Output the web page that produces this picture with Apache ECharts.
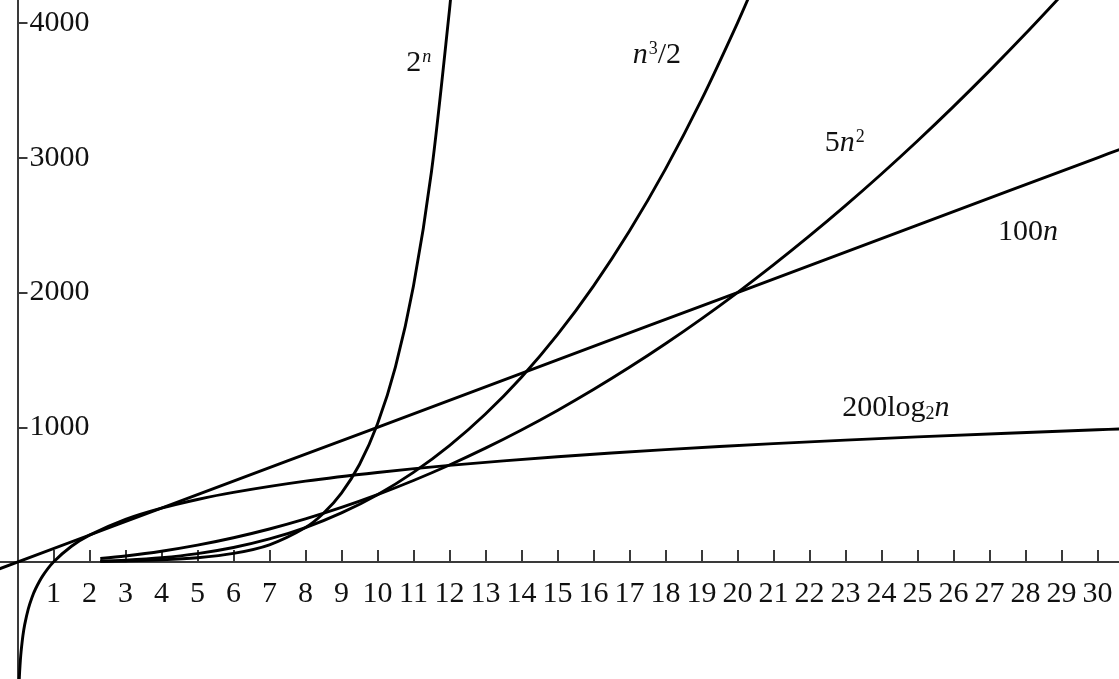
<!DOCTYPE html>
<html>
<head>
<meta charset="utf-8">
<script src="https://cdn.jsdelivr.net/npm/echarts@6/dist/echarts.min.js"></script>
<style>
html,body{margin:0;padding:0;background:#fff;}
#chart{width:1119px;height:679px;}
</style>
</head>
<body>
<div id="chart"></div>
<script>
// ---- data ----
var xTicks = [1,2,3,4,5,6,7,8,9,10,11,12,13,14,15,16,17,18,19,20,21,22,23,24,25,26,27,28,29,30];
var yTicks = [1000,2000,3000,4000];

var expN   = [2.3,3,4,5,6,7,8,8.5,9,9.5,10,10.5,11,11.5,12,12.1];
var expV   = [4.9,8,16,32,64,128,256,362,512,724,1024,1448,2048,2896,4096,4390];

var cubeN  = [2.3,3,4,5,6,7,8,9,10,11,12,13,14,15,16,17,18,19,20,20.5];
var cubeV  = [6.1,13.5,32,62.5,108,171.5,256,364.5,500,665.5,864,1098.5,1372,1687.5,2048,2456.5,2916,3429.5,4000,4307.6];

var quadN  = [2.3,3,4,5,6,7,8,9,10,11,12,13,14,15,16,17,18,19,20,21,22,23,24,25,26,27,28,29];
var quadV  = [26.5,45,80,125,180,245,320,405,500,605,720,845,980,1125,1280,1445,1620,1805,2000,2205,2420,2645,2880,3125,3380,3645,3920,4205];

var linN   = [-0.5,5,10,15,20,25,30,30.7];
var linV   = [-50,500,1000,1500,2000,2500,3000,3070];

var logN   = [0.045,0.06,0.08,0.1,0.15,0.2,0.3,0.4,0.5,0.7,1,1.5,2,3,4,5,6,8,10,12,15,18,21,25,30,30.7];
var logV   = [-894.8,-811.7,-728.8,-664.4,-547.4,-464.4,-347.4,-264.4,-200,-102.9,0,117,200,317,400,464.4,517,600,664.4,717,781.4,834,878.5,928.8,981.4,988.1];

// curve labels: text and anchor (data coords)
var labelTexts = ['{d|2}{sup|n}', '{i|n}{sup|3}{d|/2}', '{d|5}{i|n}{sup|2}', '{d|100}{i|n}', '{d|200log}{sub|2}{i|n}'];
var labelAt = [[11.15,3700],[17.76,3764],[22.98,3110],[28.07,2450],[24.4,1143]];

function pairs(ns, vs){ return ns.map(function(n,i){ return [n, vs[i]]; }); }

var FONT = 'Liberation Serif';
var FS = 30;
var rich = {
  d:  {fontFamily:FONT, fontSize:FS, color:'#111'},
  i:  {fontFamily:FONT, fontSize:FS, fontStyle:'italic', color:'#111'},
  sup:{fontFamily:FONT, fontSize:18, fontStyle:'normal', color:'#111', verticalAlign:'top', padding:[0,0,0,1]},
  sub:{fontFamily:FONT, fontSize:18, color:'#111', verticalAlign:'bottom'}
};
var richSupItalic = JSON.parse(JSON.stringify(rich));
richSupItalic.sup.fontStyle = 'italic';

function curve(ns, vs, idx){
  return {
    type:'line', data:pairs(ns, vs), showSymbol:false, smooth:0.3,
    clip:true, silent:true, z:3,
    lineStyle:{color:'#000', width:2.9},
    markPoint:{
      symbol:'circle', symbolSize:0, silent:true,
      label:{show:true, position:'inside', formatter: labelTexts[idx], rich: idx===0 ? richSupItalic : rich},
      data:[{coord: labelAt[idx]}]
    }
  };
}

function tickLabel(pos, dist, which){
  return {
    show:true, position:pos, distance:dist,
    formatter:function(p){ return '{t|' + p.value[which] + '}'; },
    rich:{ t:{fontFamily:FONT, fontSize:FS, color:'#111'} }
  };
}

var chart = echarts.init(document.getElementById('chart'));
chart.setOption({
  animation:false,
  backgroundColor:'#fff',
  grid:{left:0, right:0, top:0, bottom:0, containLabel:false, outerBoundsMode:'none'},
  xAxis:{
    type:'value', min:-0.486, max:30.6,
    axisLine:{show:true, onZero:true, lineStyle:{color:'#3a3a3a', width:2}},
    axisTick:{show:true, inside:true, length:12, customValues:xTicks, lineStyle:{color:'#3a3a3a', width:2}},
    axisLabel:{show:false},
    splitLine:{show:false}
  },
  yAxis:{
    type:'value', min:-868, max:4171,
    axisLine:{show:true, onZero:true, lineStyle:{color:'#3a3a3a', width:2}},
    axisTick:{show:true, inside:true, length:10, customValues:yTicks, lineStyle:{color:'#3a3a3a', width:2}},
    axisLabel:{show:false},
    splitLine:{show:false}
  },
  series:[
    curve(expN, expV, 0),
    curve(cubeN, cubeV, 1),
    curve(quadN, quadV, 2),
    curve(linN, linV, 3),
    curve(logN, logV, 4),
    {
      type:'scatter', silent:true, symbolSize:0, z:2, itemStyle:{opacity:1},
      data: xTicks.map(function(t){ return [t, 0]; }),
      label: tickLabel('bottom', 17, 0)
    },
    {
      type:'scatter', silent:true, symbolSize:0, z:2, itemStyle:{opacity:1},
      data: yTicks.map(function(t){ return [0, t]; }),
      label: tickLabel('right', 12, 1)
    }
  ]
});
</script>
</body>
</html>
